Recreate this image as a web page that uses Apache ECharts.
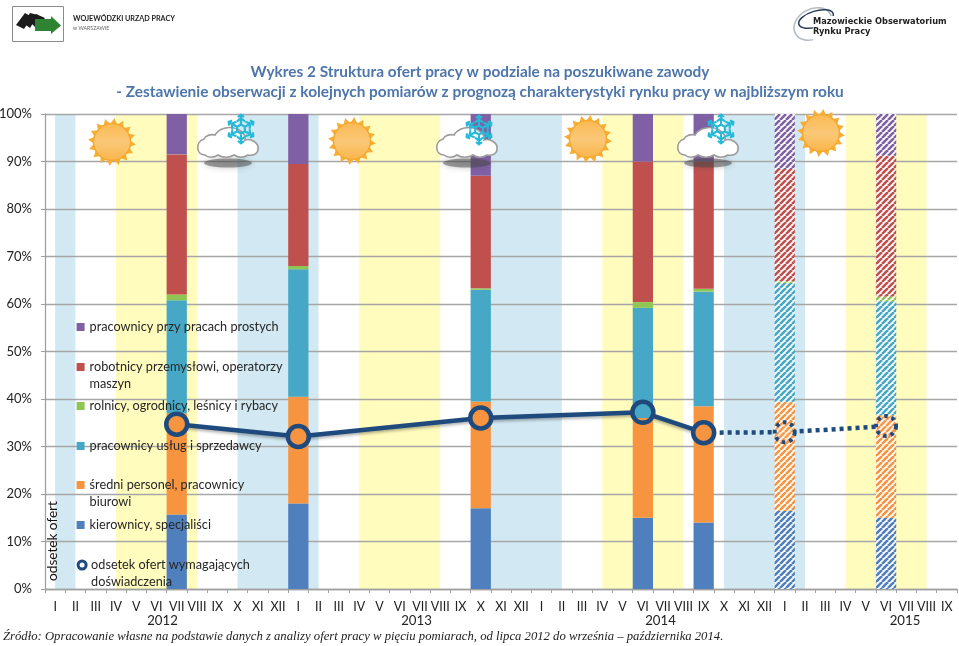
<!DOCTYPE html>
<html><head><meta charset="utf-8">
<style>html,body{margin:0;padding:0;background:#fff}#c{width:959px;height:646px}</style>
<script src="https://cdn.jsdelivr.net/npm/echarts@6/dist/echarts.min.js"></script>
</head><body><div id="c"></div>
<script>
const months = ['I','II','III','IV','V','VI','VII','VIII','IX','X','XI','XII'];
const categories = [...months, ...months, ...months, ...months.slice(0, 9)];
const yearLabels = ['2012', '2013', '2014', '2015'];
const barMonths = [6, 12, 21, 29, 32, 36, 41];
const forecastFrom = 5;
const kierownicy = [15.7, 18, 17, 15, 14, 16.4, 15];
const sredni = [21.3, 22.5, 22.5, 21.3, 24.5, 23, 21.6];
const uslugi = [23.8, 26.8, 23.5, 22.9, 24.1, 25, 24];
const rolnicy = [1.2, 0.7, 0.3, 1.2, 0.6, 0.4, 1.0];
const robotnicy = [29.5, 21.5, 23.7, 29.6, 26.8, 23.6, 29.6];
const proste = [8.5, 10.5, 13, 10, 10, 11.6, 8.8];
const observed = [34.7, 32.1, 36, 37.2, 32.9];
const forecast = [32.9, 33, 34.3];
const forecastMonths = [32, 36, 41];
const winterSpans = [[0, 1], [9, 13], [21, 25], [33, 37]];
const summerSpans = [[3, 7], [15, 19], [27, 31], [39, 43]];

function hatch(color, scale) {
  const s = 6, c = document.createElement('canvas');
  c.width = s; c.height = s;
  const g = c.getContext('2d');
  g.fillStyle = '#fff'; g.fillRect(0, 0, s, s);
  g.strokeStyle = color; g.lineWidth = 2.6;
  for (const d of [-s, 0, s]) { g.beginPath(); g.moveTo(d, s); g.lineTo(d + s, 0); g.stroke(); }
  return { image: c, repeat: 'repeat', scaleX: scale || 1, scaleY: scale || 1 };
}
const barDefs = [
  ['kierownicy, specjaliści', kierownicy, '#4F7FBD'],
  ['średni personel, pracownicy\nbiurowi', sredni, '#F79440'],
  ['pracownicy usług i sprzedawcy', uslugi, '#46A8C6'],
  ['rolnicy, ogrodnicy, leśnicy i rybacy', rolnicy, '#8FC653'],
  ['robotnicy przemysłowi, operatorzy\nmaszyn', robotnicy, '#C0504D'],
  ['pracownicy przy pracach prostych', proste, '#8060A4']
];
const lineName = 'odsetek ofert wymagających\ndoświadczenia';
const navy = '#1F4A7D';

function sparse(idx, vals, wrap) {
  const a = categories.map(() => null);
  idx.forEach((m, i) => { a[m] = wrap ? wrap(vals[i], i) : vals[i]; });
  return a;
}
const spans = (list, color) => list.map(([a, b]) => [{ xAxis: a, itemStyle: { color, opacity: 1 } }, { xAxis: b }]);

const barSeries = barDefs.map(([name, vals, color]) => ({
  name, type: 'bar', stack: 'oferty', barWidth: '100%', z: 5,
  itemStyle: { color },
  data: sparse(barMonths, vals, (v, i) => i >= forecastFrom ? { value: v, itemStyle: { color: hatch(color) } } : v)
}));

const ringFill = ['#F79440', '#F79440', '#F79440',
  { type: 'linear', x: 0, y: 0, x2: 0, y2: 1, colorStops: [{ offset: 0, color: '#46A8C6' }, { offset: .72, color: '#46A8C6' }, { offset: .72, color: '#F79440' }, { offset: 1, color: '#F79440' }] },
  '#F79440'];
const lineSeries = {
  name: lineName, type: 'line', z: 8, connectNulls: true, symbol: 'circle', symbolSize: 21,
  lineStyle: { color: navy, width: 4.5, shadowColor: 'rgba(0,0,0,.3)', shadowBlur: 3, shadowOffsetY: 2 },
  itemStyle: { color: '#F79440', borderColor: navy, borderWidth: 4.5 },
  data: sparse(barMonths.slice(0, 5), observed, (v, i) => ({ value: v, itemStyle: { color: ringFill[i] } }))
};
const dottedSize = 20;
const orangeHatch = hatch('#F79440', 2 / dottedSize);
const dottedSeries = {
  name: 'prognoza', type: 'line', z: 7, connectNulls: true, symbol: 'circle', symbolSize: dottedSize,
  lineStyle: { color: navy, width: 4.5, type: [4, 4] },
  itemStyle: { color: orangeHatch, borderColor: navy, borderWidth: 4, borderType: [3.5, 4] },
  data: sparse(forecastMonths, forecast, (v, i) => i === 0
    ? { value: v, symbol: 'none' } : { value: v }),
  markArea: { silent: true, z: 1, data: [...spans(winterSpans, '#D2E8F2'), ...spans(summerSpans, '#FFFCBD')] }
};

const legendOrder = [
  [barDefs[5][0], 327], [barDefs[4][0], 367], [barDefs[3][0], 406], [barDefs[2][0], 446],
  [barDefs[1][0], 485], [barDefs[0][0], 525], [lineName, 565]
];
const legends = legendOrder.map(([name, cy]) => {
  const isLine = name === lineName;
  return {
    left: 76.6, top: cy - 25.5, padding: 0, z: 20, selectedMode: false, orient: 'vertical',
    itemWidth: 8, itemHeight: 8,
    textStyle: { fontFamily: 'Lato', fontSize: 12.7, color: '#262626', lineHeight: 17 },
    formatter: n => { const [a, b = ' '] = n.split('\n'); return `\n${a}\n${b}`; },
    data: [isLine
      ? { name, icon: 'circle', itemStyle: { color: '#fff', borderColor: navy, borderWidth: 3 } }
      : { name, icon: 'rect' }]
  };
});

// --- decoration ---
function sunPoints(cx, cy) {
  const pts = [], n = 16;
  for (let i = 0; i < n * 2; i++) {
    const r = i % 2 ? 18 : 24, a = i * Math.PI / n + 0.1;
    pts.push([cx + r * Math.cos(a), cy + r * Math.sin(a)]);
  }
  return pts;
}
function sun(cx, cy) {
  return [
    { type: 'polygon', z: 30, shape: { points: sunPoints(cx, cy) }, style: { fill: '#F6AE35' } },
    { type: 'circle', z: 31, shape: { cx, cy, r: 18.5 }, style: {
      fill: { type: 'linear', x: 0, y: 0, x2: 0, y2: 1, colorStops: [{ offset: 0, color: '#F9B950' }, { offset: .5, color: '#FBC878' }, { offset: 1, color: '#F9B54A' }] },
      stroke: '#F5A92E', lineWidth: 1.5 } }
  ];
}
function flakePath(R) {
  let d = '';
  for (let k = 0; k < 6; k++) {
    const a = k * Math.PI / 3 + Math.PI / 2, ca = Math.cos(a), sa = Math.sin(a);
    const P = (u, v) => (u * ca - v * sa).toFixed(1) + ',' + (u * sa + v * ca).toFixed(1);
    d += 'M' + P(R * .3, 0) + 'L' + P(R, 0);
    d += 'M' + P(R * .5, -R * .27) + 'L' + P(R * .72, 0) + 'L' + P(R * .5, R * .27);
    d += 'M' + P(R * .8, -R * .2) + 'L' + P(R * .95, 0) + 'L' + P(R * .8, R * .2);
  }
  for (let k = 0; k < 6; k++) {
    const a = k * Math.PI / 3 + Math.PI / 6;
    d += (k ? 'L' : 'M') + (R * .3 * Math.cos(a)).toFixed(1) + ',' + (R * .3 * Math.sin(a)).toFixed(1);
  }
  return d + 'Z';
}
echarts.graphic.registerShape('flakeShape', echarts.graphic.extendPath(flakePath(15), {}));
echarts.graphic.registerShape('cloudShape', echarts.graphic.extendPath('M8,28C-1,28 -2,15 7,12C9,8 14,7 18,8C22,1 34,-2 42,3C47,6 49,10 48,13C54,11 62,16 61,22C61,27 56,29 51,28C47,31 41,31 37,28C33,31 25,31 21,28C17,31 11,31 8,28Z', {}));
function cloud(x, y, fx, fy) {
  return [
    { type: 'ellipse', z: 29, shape: { cx: x + 31, cy: y + 36, rx: 24, ry: 4.5 }, style: { fill: 'rgba(70,70,70,.5)', shadowColor: 'rgba(70,70,70,.6)', shadowBlur: 6 } },
    { type: 'cloudShape', z: 30, x, y, shape: {}, style: { fill: '#fff', stroke: '#9C9C9C', lineWidth: 1.6 } },
    { type: 'flakeShape', z: 31, x: fx, y: fy, shape: {}, style: { fill: 'none', stroke: '#26BAD8', lineWidth: 2.2 } }
  ];
}
const arc = (cx, cy, rx, ry, rot, stroke, w) => ({ type: 'ellipse', z: 30, shape: { cx: 0, cy: 0, rx, ry }, x: cx, y: cy, rotation: rot, style: { fill: 'none', stroke, lineWidth: w } });
const txt = (x, y, text, font, fill, extra) => ({ type: 'text', z: 40, x, y, ...(extra || {}), style: { text, font, fill, verticalAlign: 'middle', align: (extra && extra.align) || 'left' } });

const graphics = [
  { type: 'rect', z: 30, shape: { x: 12.5, y: 6.5, width: 51, height: 35 }, style: { fill: '#fff', stroke: '#8C8C8C', lineWidth: 1 } },
  { type: 'polygon', z: 31, shape: { points: [[16, 25], [25, 13], [32, 17], [24, 29]] }, style: { fill: '#1C1C1C' } },
  { type: 'polygon', z: 31, shape: { points: [[23, 23], [30, 13], [38, 15], [30, 28]] }, style: { fill: '#1C1C1C' } },
  { type: 'polygon', z: 31, shape: { points: [[30, 22], [36, 14], [45, 18], [36, 28]] }, style: { fill: '#1C1C1C' } },
  { type: 'polygon', z: 32, shape: { points: [[35, 19], [51, 19], [51, 16], [61, 25.5], [51, 34], [51, 31], [35, 31]] }, style: { fill: '#2F8434' } },
  txt(73, 19, 'WOJEWÓDZKI URZĄD PRACY', 'bold 7.2px Lato', '#222'),
  txt(73, 28.5, 'w WARSZAWIE', '5.2px Lato', '#666'),
  arc(813, 24, 20, 15, 0.5, '#B5BCC4', 1.6),
  arc(816, 19, 18, 8, 0.3, '#2B3C55', 1.5),
  { type: 'rect', z: 31, shape: { x: 813, y: 16, width: 40, height: 26 }, style: { fill: '#fff' } },
  txt(813, 22, 'Mazowieckie Obserwatorium', 'bold 8.25px "DejaVu Sans"', '#222'),
  txt(813, 32, 'Rynku Pracy', 'bold 8.25px "DejaVu Sans"', '#222'),
  txt(53, 541, 'odsetek ofert', '13.6px Lato', '#111', { rotation: Math.PI / 2, align: 'center' }),
  ...yearLabels.map((y, i) => txt([162.5, 416.5, 660.5, 905][i], 621, y, '13.2px Lato', '#222', { align: 'center' })),
  txt(3, 637, 'Źródło: Opracowanie własne na podstawie danych z analizy ofert pracy w pięciu pomiarach, od lipca 2012 do września – października 2014.', 'italic 12.7px "Liberation Serif"', '#222'),
  ...sun(112, 142), ...sun(352, 141), ...sun(588, 139), ...sun(821, 133),
  ...cloud(197, 127, 241, 129), ...cloud(436, 127, 479, 130), ...cloud(677, 127, 721, 129)
];

const chart = echarts.init(document.getElementById('c'), null, { renderer: 'canvas' });
chart.setOption({
  animation: false,
  backgroundColor: '#fff',
  title: {
    text: 'Wykres 2 Struktura ofert pracy w podziale na poszukiwane zawody\n- Zestawienie obserwacji z kolejnych pomiarów z prognozą charakterystyki rynku pracy w najbliższym roku',
    left: 480, top: 62, textAlign: 'center', padding: 0,
    textStyle: { fontFamily: 'Lato', fontWeight: 'bold', fontSize: 15.4, lineHeight: 20, color: '#4E76AB' }
  },
  legend: legends,
  grid: { left: 45, right: 2, top: 114, bottom: 57, containLabel: false, outerBoundsMode: 'none' },
  xAxis: {
    type: 'category', data: categories, z: 3,
    axisTick: { show: true, interval: 0, length: 4, lineStyle: { color: '#A0A0A0' } },
    axisLine: { lineStyle: { color: '#A0A0A0', width: 1.3 } },
    axisLabel: { interval: 0, margin: 11, fontFamily: 'Lato', fontSize: 12.5, color: '#222' },
    splitLine: { show: false }
  },
  yAxis: {
    type: 'value', min: 0, max: 100, interval: 10, z: 3,
    axisLine: { show: true, lineStyle: { color: '#A0A0A0', width: 1.3 } },
    axisTick: { show: true, length: 4, lineStyle: { color: '#A0A0A0' } },
    axisLabel: { formatter: '{value}%', margin: 13, fontFamily: 'Lato', fontSize: 13, color: '#222' },
    splitLine: { show: true, lineStyle: { color: '#A6A6A6', width: 1.3 } }
  },
  series: [...barSeries, dottedSeries, lineSeries],
  graphic: { elements: graphics }
});
</script></body></html>
